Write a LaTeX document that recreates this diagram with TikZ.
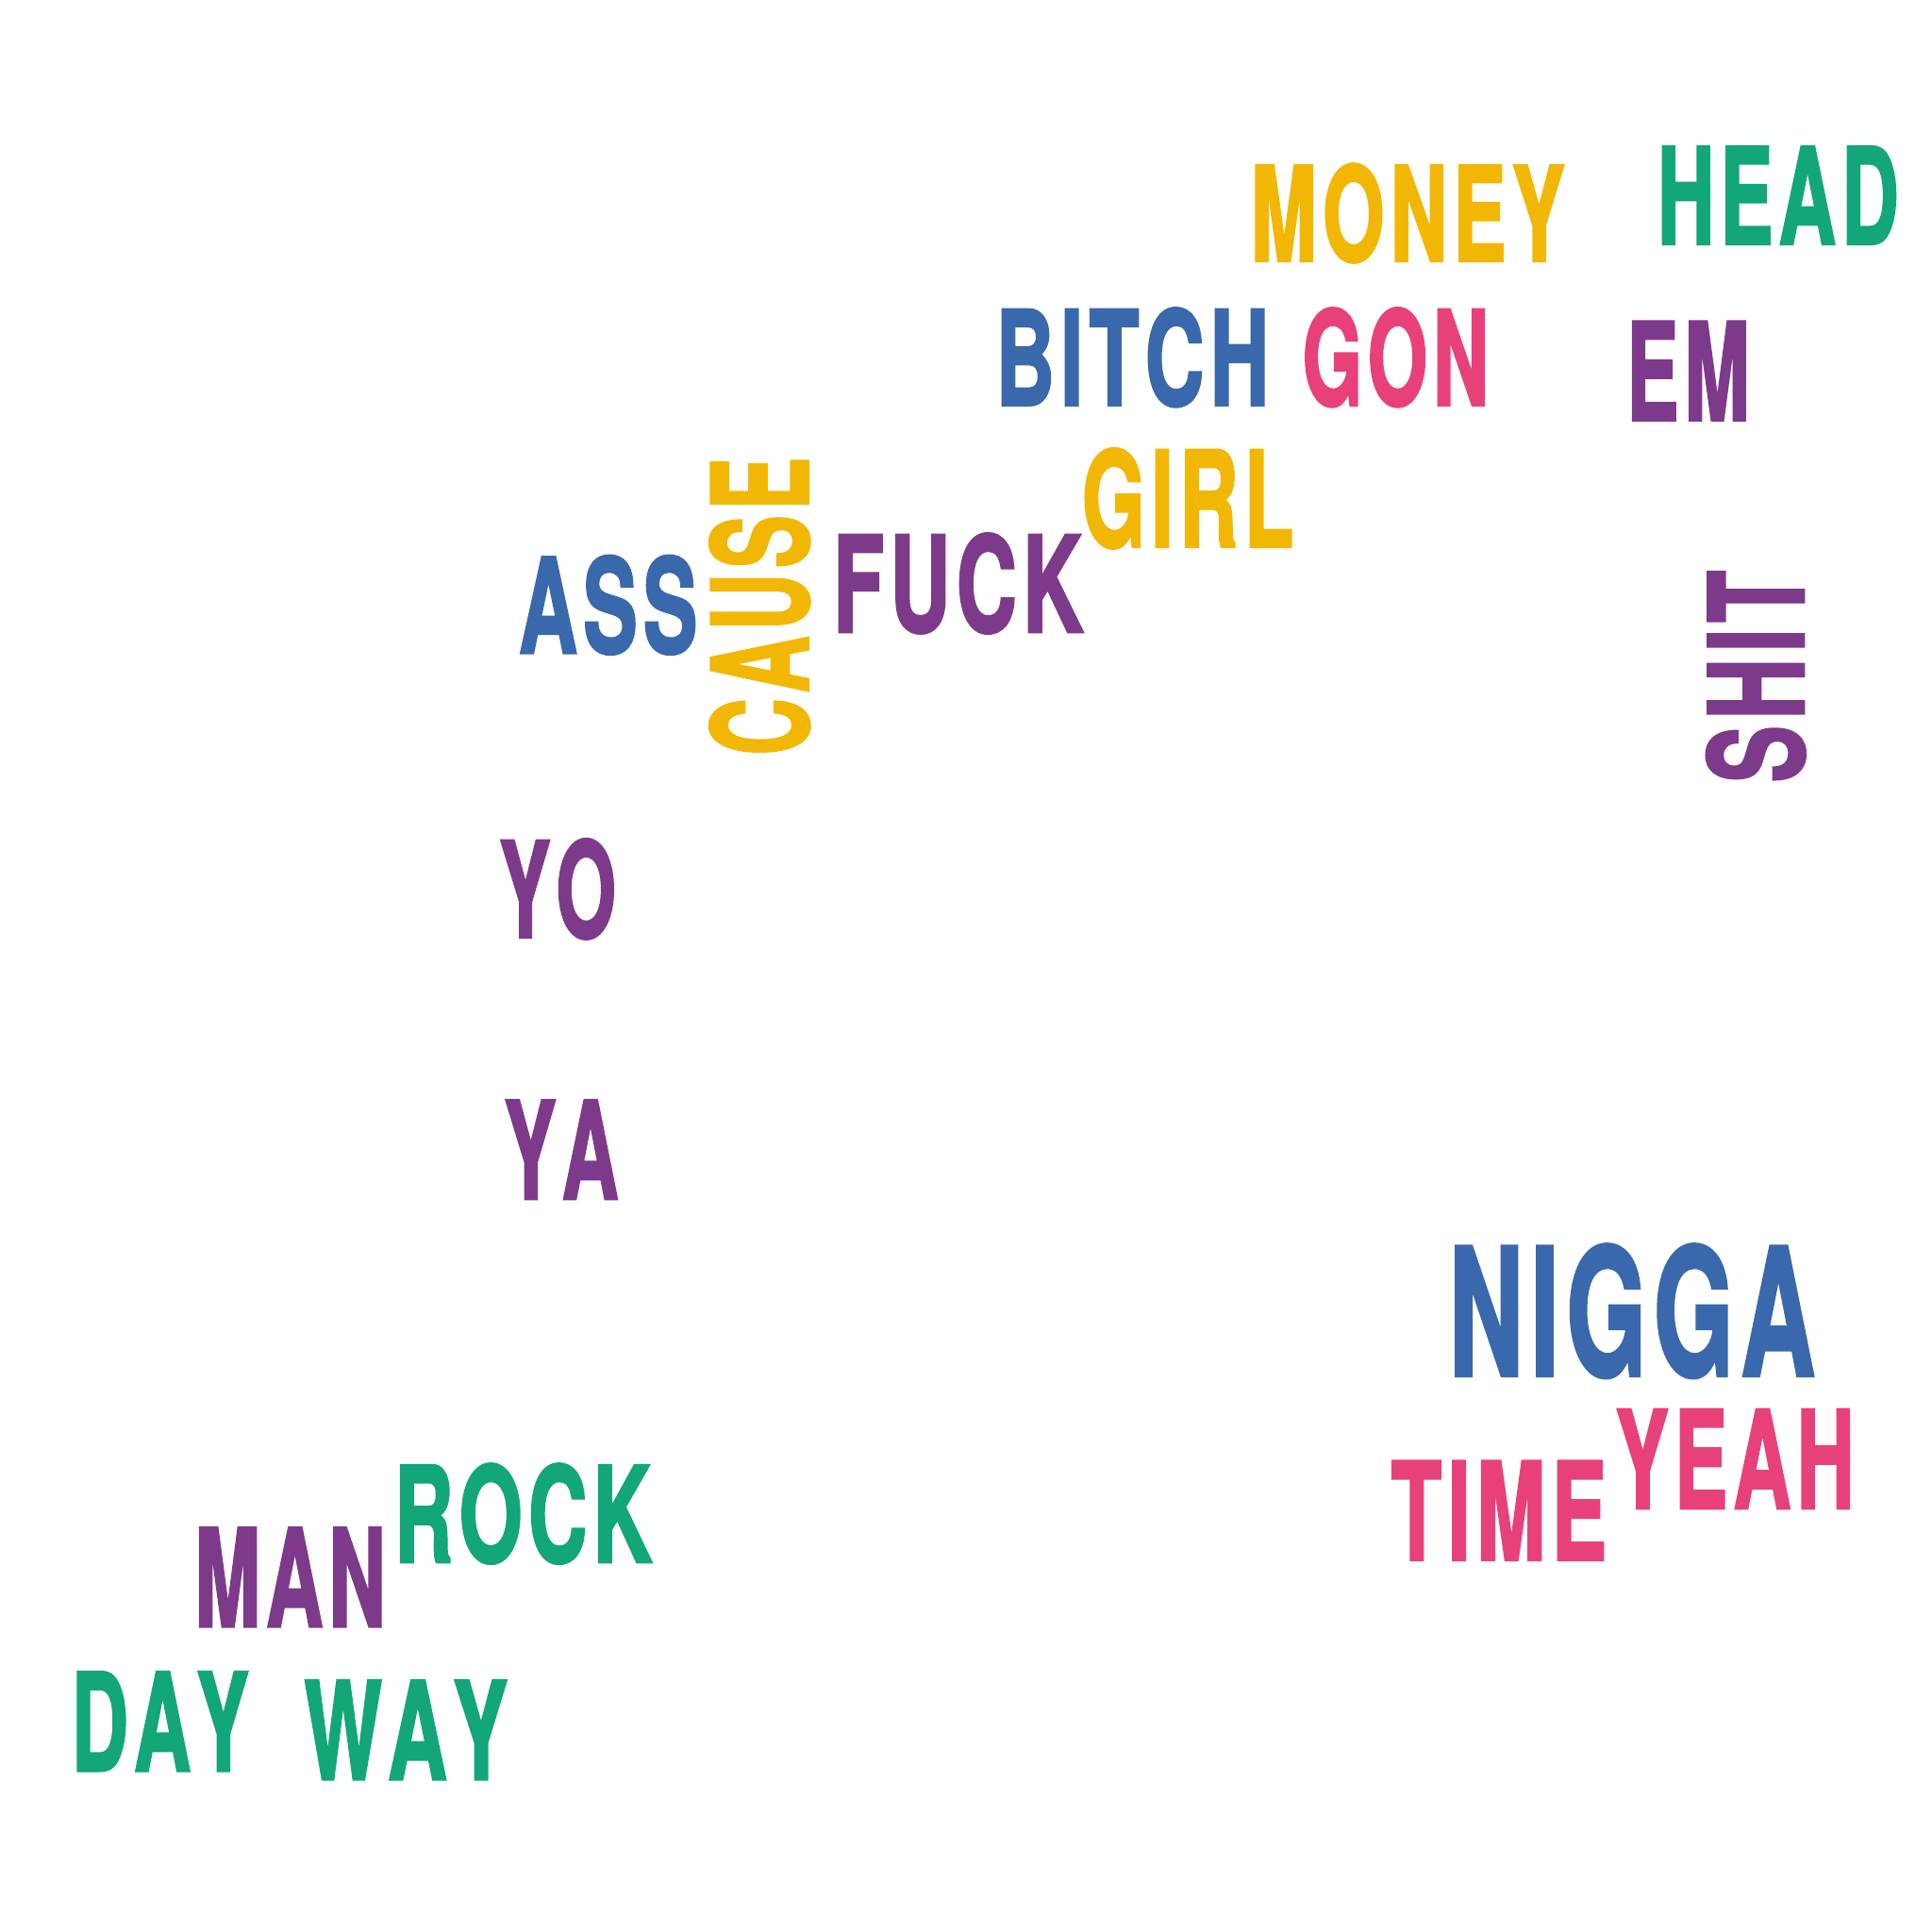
\documentclass[tikz,border=0pt]{standalone}
\usepackage{fontspec}
\setmainfont{TeX Gyre Heros}[BoldFeatures={FakeBold=2.2}]
\usepackage{graphicx}
\definecolor{cyel}{HTML}{F2B705}
\definecolor{cgrn}{HTML}{12A679}
\definecolor{cblu}{HTML}{3A68AD}
\definecolor{cpur}{HTML}{7D3A8B}
\definecolor{cpnk}{HTML}{E8417A}
\def\spc#1{\spcA#1\relax}
\def\spcA#1#2{#1\ifx\relax#2\else\kern.07em\expandafter\spcA\expandafter#2\fi}
\newcommand\wordbox[3]{\resizebox*{#1pt}{#2pt}{\bfseries\spc{#3}}}
\newcommand\wordup[3]{\rotatebox{90}{\resizebox*{#1pt}{#2pt}{\bfseries\spc{#3}}}}
\tikzset{wd/.style={inner sep=0pt, outer sep=0pt, anchor=north west}}
\begin{document}
\begin{tikzpicture}[x=1pt,y=-1pt]
\useasboundingbox[fill=white] (0,0) rectangle (1568,1568);
\node[wd, text=cyel] (money) at (1015,133) {\wordbox{255}{80}{MONEY}};
\node[wd, text=cgrn] (head) at (1345,119) {\wordbox{196}{79}{HEAD}};
\node[wd, text=cblu] (bitch) at (808,250) {\wordbox{222}{80}{BITCH}};
\node[wd, text=cpnk] (gon) at (1057,250) {\wordbox{151}{80}{GON}};
\node[wd, text=cpur] (em) at (1320,261) {\wordbox{100}{80}{EM}};
\node[wd, text=cyel] (girl) at (878,364) {\wordbox{172}{81}{GIRL}};
\node[wd, text=cyel] (cause) at (576,371) {\wordup{242}{81}{CAUSE}};
\node[wd, text=cblu] (ass) at (421,451) {\wordbox{145}{80}{ASS}};
\node[wd, text=cpur] (fuck) at (676,433) {\wordbox{203}{81}{FUCK}};
\node[wd, text=cpur] (shit) at (1385,463) {\wordup{172}{80}{SHIT}};
\node[wd, text=cpur] (yo) at (405,681) {\wordbox{95}{81}{YO}};
\node[wd, text=cpur] (ya) at (409,893) {\wordbox{93}{80}{YA}};
\node[wd, text=cblu] (nigga) at (1176,1010) {\wordbox{297}{108}{NIGGA}};
\node[wd, text=cpnk] (yeah) at (1311,1144) {\wordbox{194}{80}{YEAH}};
\node[wd, text=cpnk] (time) at (1129,1186) {\wordbox{175}{80}{TIME}};
\node[wd, text=cgrn] (rock) at (320,1188) {\wordbox{209}{81}{ROCK}};
\node[wd, text=cpur] (man) at (158,1240) {\wordbox{155}{80}{MAN}};
\node[wd, text=cgrn] (day) at (58,1357) {\wordbox{144}{80}{DAY}};
\node[wd, text=cgrn] (way) at (247,1364) {\wordbox{165}{80}{WAY}};
\end{tikzpicture}
\end{document}
